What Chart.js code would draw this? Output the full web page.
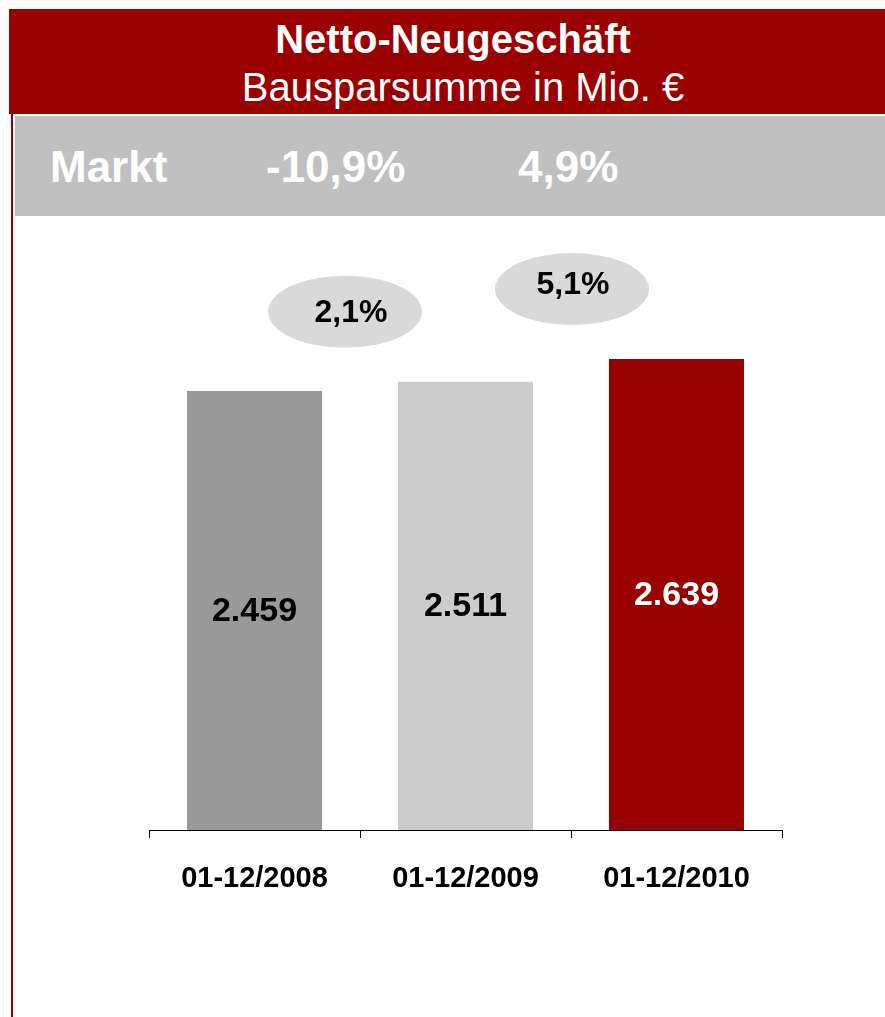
<!DOCTYPE html>
<html>
<head>
<meta charset="utf-8">
<script src="https://cdn.jsdelivr.net/npm/chart.js@4.4.1/dist/chart.umd.min.js"></script>
<style>
  body { margin: 0; background: #fff; font-family: "Liberation Sans", Arial, sans-serif; }
  #page { position: relative; width: 885px; height: 1017px; overflow: hidden; }
  .box { position: absolute; }
  #head { left: 9px; top: 9px; width: 876px; height: 105px; background: #990000; }
  #band { left: 15px; top: 116px; width: 870px; height: 100px; background: #c0c0c0; }
  #rule { left: 11px; top: 114px; width: 2px; height: 903px; background: #990000; }
  .txt { position: absolute; color: #fff; white-space: nowrap; }
  #title { left: 0; width: 906px; text-align: center; top: 19px; font: bold 40px/40px "Liberation Sans", Arial, sans-serif; }
  #sub { left: 0; width: 926px; text-align: center; top: 67px; font: 40px/40px "Liberation Sans", Arial, sans-serif; }
  .mk { top: 145px; font: bold 44px/44px "Liberation Sans", Arial, sans-serif; }
  #chartBox { position: absolute; left: 0; top: 216px; width: 885px; height: 801px; }
</style>
</head>
<body>
<div id="page">
  <div class="box" id="head"></div>
  <div class="box" id="band"></div>
  <div class="txt" id="title"></div>
  <div class="txt" id="sub"></div>
  <div class="txt mk" id="mk0" style="left:50px"></div>
  <div class="txt mk" id="mk1" style="left:266px"></div>
  <div class="txt mk" id="mk2" style="left:518px"></div>
  <div id="chartBox"><canvas id="myCanvas"></canvas></div>
  <div class="box" id="rule"></div>
</div>
<script>
const title = 'Netto-Neugeschäft';
const subtitle = 'Bausparsumme in Mio. €';
const marketLabel = 'Markt';
const marketGrowth = ['-10,9%', '4,9%'];
const periods = ['01-12/2008', '01-12/2009', '01-12/2010'];
const volumes = [2459, 2511, 2639];
const valueText = ['2.459', '2.511', '2.639'];
const growth = ['2,1%', '5,1%'];

const barColors = ['#999999', '#cccccc', '#990000'];
const labelColors = ['#000000', '#000000', '#ffffff'];

document.getElementById('title').textContent = title;
document.getElementById('sub').textContent = subtitle;
document.getElementById('mk0').textContent = marketLabel;
document.getElementById('mk1').textContent = marketGrowth[0];
document.getElementById('mk2').textContent = marketGrowth[1];

const FONT = '"Liberation Sans", Arial, sans-serif';

// values inside the bars + growth ellipses between them
const marks = {
   id: 'marks',
   afterDatasetsDraw(chart) {
      const ctx = chart.ctx;
      const meta = chart.getDatasetMeta(0);
      const xs = chart.scales.x;
      ctx.save();
      ctx.textAlign = 'center';
      ctx.textBaseline = 'middle';
      ctx.font = 'bold 34px ' + FONT;
      meta.data.forEach((bar, i) => {
         ctx.fillStyle = labelColors[i];
         ctx.fillText(valueText[i], bar.x, (bar.y + bar.base) / 2 + 1);
      });
      growth.forEach((g, i) => {
         const nudge = i === 0 ? -15 : 1;
         const cx = xs.getPixelForValue(i + 0.5) + nudge;
         const top = Math.min(meta.data[i].y, meta.data[i + 1].y);
         const cy = top - 70;
         ctx.fillStyle = '#d9d9d9';
         ctx.beginPath();
         ctx.ellipse(cx, cy, 77, 36, 0, 0, Math.PI * 2);
         ctx.fill();
         ctx.fillStyle = '#000';
         ctx.font = 'bold 32px ' + FONT;
         ctx.fillText(g, cx + (i === 0 ? 6 : 1), cy + (i === 0 ? 1 : -4));
      });
      ctx.restore();
   }
};

new Chart(document.getElementById('myCanvas').getContext('2d'), {
   type: 'bar',
   data: {
      labels: periods,
      datasets: [{
         data: volumes,
         backgroundColor: barColors,
         borderWidth: 0,
         categoryPercentage: 1,
         barPercentage: 0.64
      }]
   },
   options: {
      responsive: true,
      maintainAspectRatio: false,
      animation: false,
      layout: { padding: { left: 149, right: 103, top: 25, bottom: 0 } },
      plugins: { legend: { display: false }, tooltip: { enabled: false } },
      scales: {
         x: {
            afterFit(scale) { scale.height = 187; },
            grid: { offset: true, drawOnChartArea: false, tickLength: 8, color: '#000', lineWidth: 1 },
            border: { display: true, color: '#000', width: 1 },
            ticks: { color: '#000', padding: 24, font: { family: FONT, size: 29, weight: 'bold' } }
         },
         y: { display: false, min: 0, max: 3300 }
      }
   },
   plugins: [marks]
});
</script>
</body>
</html>
